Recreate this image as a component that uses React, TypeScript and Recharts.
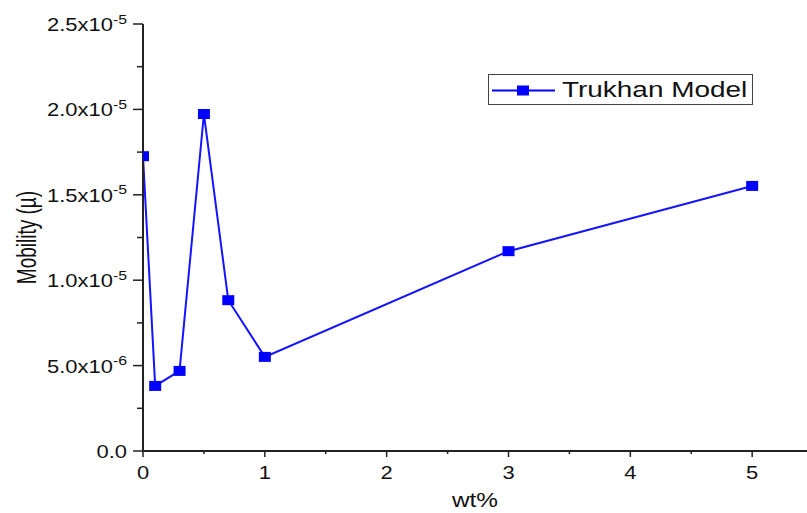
import React from 'react';
import { LineChart, Line, XAxis, YAxis, Legend } from 'recharts';

// values
const wtPercent = [0, 0.1, 0.3, 0.5, 0.7, 1, 3, 5];
const mobility = [1.726e-5, 3.81e-6, 4.69e-6, 1.973e-5, 8.83e-6, 5.51e-6, 1.17e-5, 1.552e-5];
const xTicks = [0, 0.5, 1, 1.5, 2, 2.5, 3, 3.5, 4, 4.5, 5];
const yTicks = [0, 2.5e-6, 5e-6, 7.5e-6, 1e-5, 1.25e-5, 1.5e-5, 1.75e-5, 2e-5, 2.25e-5, 2.5e-5];
const seriesName = 'Trukhan Model';
const xTitle = 'wt%';
const yTitle = 'Mobility (µ)';

const data = wtPercent.map((x, i) => ({ x, mobility: mobility[i] }));

const FONT = '"Liberation Sans", Arial, sans-serif';
const BLUE = '#0000ff';
const AXIS = '#222';
const SX = 1.22; // the original image is stretched horizontally

const sciParts = (v: number) => {
  if (v === 0) return { mant: '0.0', exp: '' };
  const exp = Math.floor(Math.log10(v) + 1e-9);
  return { mant: (v / Math.pow(10, exp)).toFixed(1) + 'x10', exp: String(exp) };
};

const YTick = ({ x, y, payload }: any) => {
  const v = payload.value;
  const major = Math.round(v / 2.5e-6) % 2 === 0;
  const { mant, exp } = sciParts(v);
  return (
    <g>
      <line x1={x - (major ? 10 : 6)} x2={x} y1={y} y2={y} stroke={AXIS} strokeWidth={1.5} />
      {major && (
        <text
          transform={`translate(${x - 16},${y + 7}) scale(${SX},1)`}
          textAnchor="end"
          fontSize={18}
          fontFamily={FONT}
          fill="#111"
        >
          {mant}
          {exp && (
            <tspan dy={-7.5} fontSize={13}>
              {exp}
            </tspan>
          )}
        </text>
      )}
    </g>
  );
};

const XTick = ({ x, y, payload }: any) => {
  const v = payload.value;
  const major = Number.isInteger(v);
  return (
    <g>
      <line x1={x} x2={x} y1={y} y2={y + (major ? 6 : 3)} stroke={AXIS} strokeWidth={1.5} />
      {major && (
        <text
          transform={`translate(${x},${y + 28}) scale(${SX},1)`}
          textAnchor="middle"
          fontSize={18}
          fontFamily={FONT}
          fill="#111"
        >
          {v}
        </text>
      )}
    </g>
  );
};

const XTitle = ({ viewBox }: any) => (
  <text
    transform={`translate(${viewBox.x + viewBox.width / 2},${viewBox.y + 56}) scale(${SX},1)`}
    textAnchor="middle"
    fontSize={20}
    fontFamily={FONT}
    fill="#111"
  >
    {xTitle}
  </text>
);

const YTitle = ({ viewBox }: any) => (
  <text
    transform={`translate(${viewBox.x + 36},${viewBox.y + viewBox.height / 2}) scale(1.5,1) rotate(-90)`}
    textAnchor="middle"
    fontSize={19}
    fontFamily={FONT}
    fill="#111"
  >
    {yTitle}
  </text>
);

const LegendBox = () => (
  <svg width={266} height={32} style={{ display: 'block' }}>
    <rect x={0.5} y={0.5} width={264} height={30} fill="#fff" stroke="#444" />
    <line x1={4} x2={67} y1={16.5} y2={16.5} stroke={BLUE} strokeWidth={2} />
    <rect x={29} y={11.5} width={12} height={10} fill={BLUE} />
    <text transform="translate(74,23) scale(1.3,1)" fontSize={21.5} fontFamily={FONT} fill="#111">
      {seriesName}
    </text>
  </svg>
);

const SquareDot = (props: any) => {
  const { cx, cy, index } = props;
  return <rect key={`dot-${index}`} x={cx - 6} y={cy - 5} width={12} height={10} fill={BLUE} />;
};

export default function App() {
  return (
    <div style={{ position: 'absolute', left: 0, top: 0, background: '#fff' }}>
      <LineChart
        width={807}
        height={513}
        data={data}
        margin={{ top: 24, right: 0, bottom: 0, left: 0 }}
      >
        <XAxis
          type="number"
          dataKey="x"
          domain={[0, 5.45]}
          ticks={xTicks}
          interval={0}
          allowDataOverflow
          height={62}
          tickSize={0}
          tickMargin={0}
          tickLine={false}
          tick={<XTick />}
          axisLine={{ stroke: AXIS, strokeWidth: 2 }}
          label={{ content: <XTitle /> }}
        />
        <YAxis
          type="number"
          domain={[0, 2.5e-5]}
          ticks={yTicks}
          interval={0}
          width={143}
          tickSize={0}
          tickMargin={0}
          tickLine={false}
          tick={<YTick />}
          axisLine={{ stroke: AXIS, strokeWidth: 2 }}
          label={{ content: <YTitle /> }}
        />
        <Legend
          layout="horizontal"
          verticalAlign="middle"
          align="center"
          content={() => <LegendBox />}
          wrapperStyle={{ left: 488, top: 74, width: 'auto', height: 'auto' }}
        />
        <Line
          type="linear"
          dataKey="mobility"
          name={seriesName}
          stroke="#1414ff"
          strokeWidth={2}
          dot={SquareDot}
          activeDot={false}
          isAnimationActive={false}
        />
      </LineChart>
    </div>
  );
}
